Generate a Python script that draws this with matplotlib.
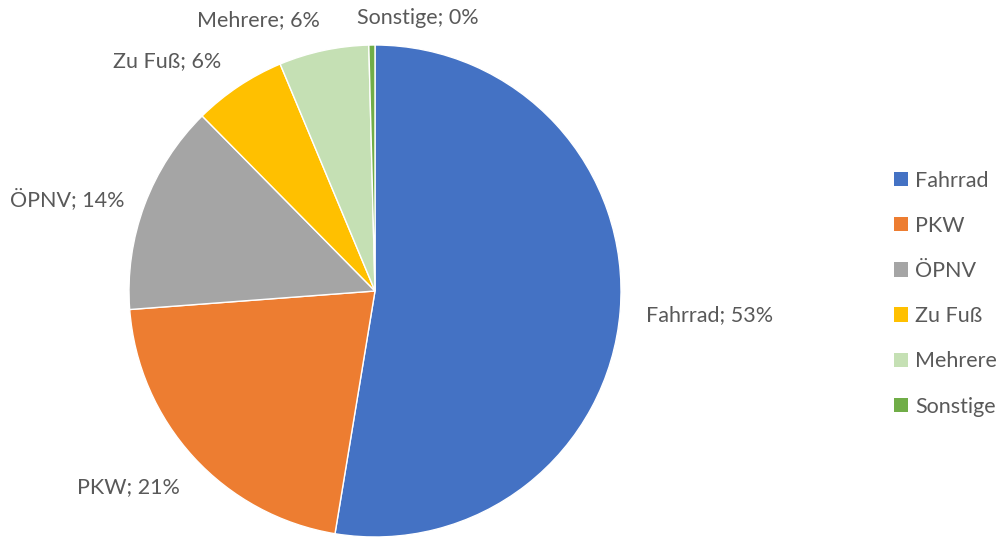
import matplotlib.pyplot as plt
from matplotlib.patches import Patch

# Data (percent shares)
categories = ["Fahrrad", "PKW", "ÖPNV", "Zu Fuß", "Mehrere", "Sonstige"]
shares = [52.6, 21.2, 13.8, 6.1, 5.9, 0.4]
colors = ["#4472C4", "#ED7D31", "#A5A5A5", "#FFC000", "#C5E0B4", "#70AD47"]

# label centres in pixels (x, y from top-left)
label_px = [(710, 315), (128, 487), (67, 199), (167, 61), (258, 20), (418, 18)]

plt.rcParams['font.family'] = ['Lato', 'DejaVu Sans']
text_color = "#595959"
fs = 15.5

W, H = 1003, 537
fig = plt.figure(figsize=(W / 100, H / 100), dpi=100)

# pie axes: centre (375, 291) px, radius 246 px
cx, cy, r = 375, 291, 246
ax = fig.add_axes([(cx - r) / W, (H - cy - r) / H, 2 * r / W, 2 * r / H])
wedges, _ = ax.pie(shares, colors=colors, startangle=90, counterclock=False,
                   radius=1, wedgeprops=dict(edgecolor="white", linewidth=1))
ax.set_xlim(-1, 1)
ax.set_ylim(-1, 1)
ax.set_aspect("equal")
ax.axis("off")

# data labels
for cat, val, (px, py) in zip(categories, shares, label_px):
    ax.text((px - cx) / r, (cy - py) / r, f"{cat}; {val:.0f}%",
            ha="center", va="center", fontsize=fs, color=text_color,
            clip_on=False)

# legend
handles = [Patch(facecolor=c, edgecolor="none") for c in colors]
fig.legend(handles, categories, loc="upper left",
           bbox_to_anchor=(885 / W, 1 - 162 / H), frameon=False,
           fontsize=fs, labelcolor=text_color, handlelength=0.65,
           handleheight=0.65, handletextpad=0.35, labelspacing=1.17,
           borderaxespad=0)

fig.savefig("out.png", dpi=100)
